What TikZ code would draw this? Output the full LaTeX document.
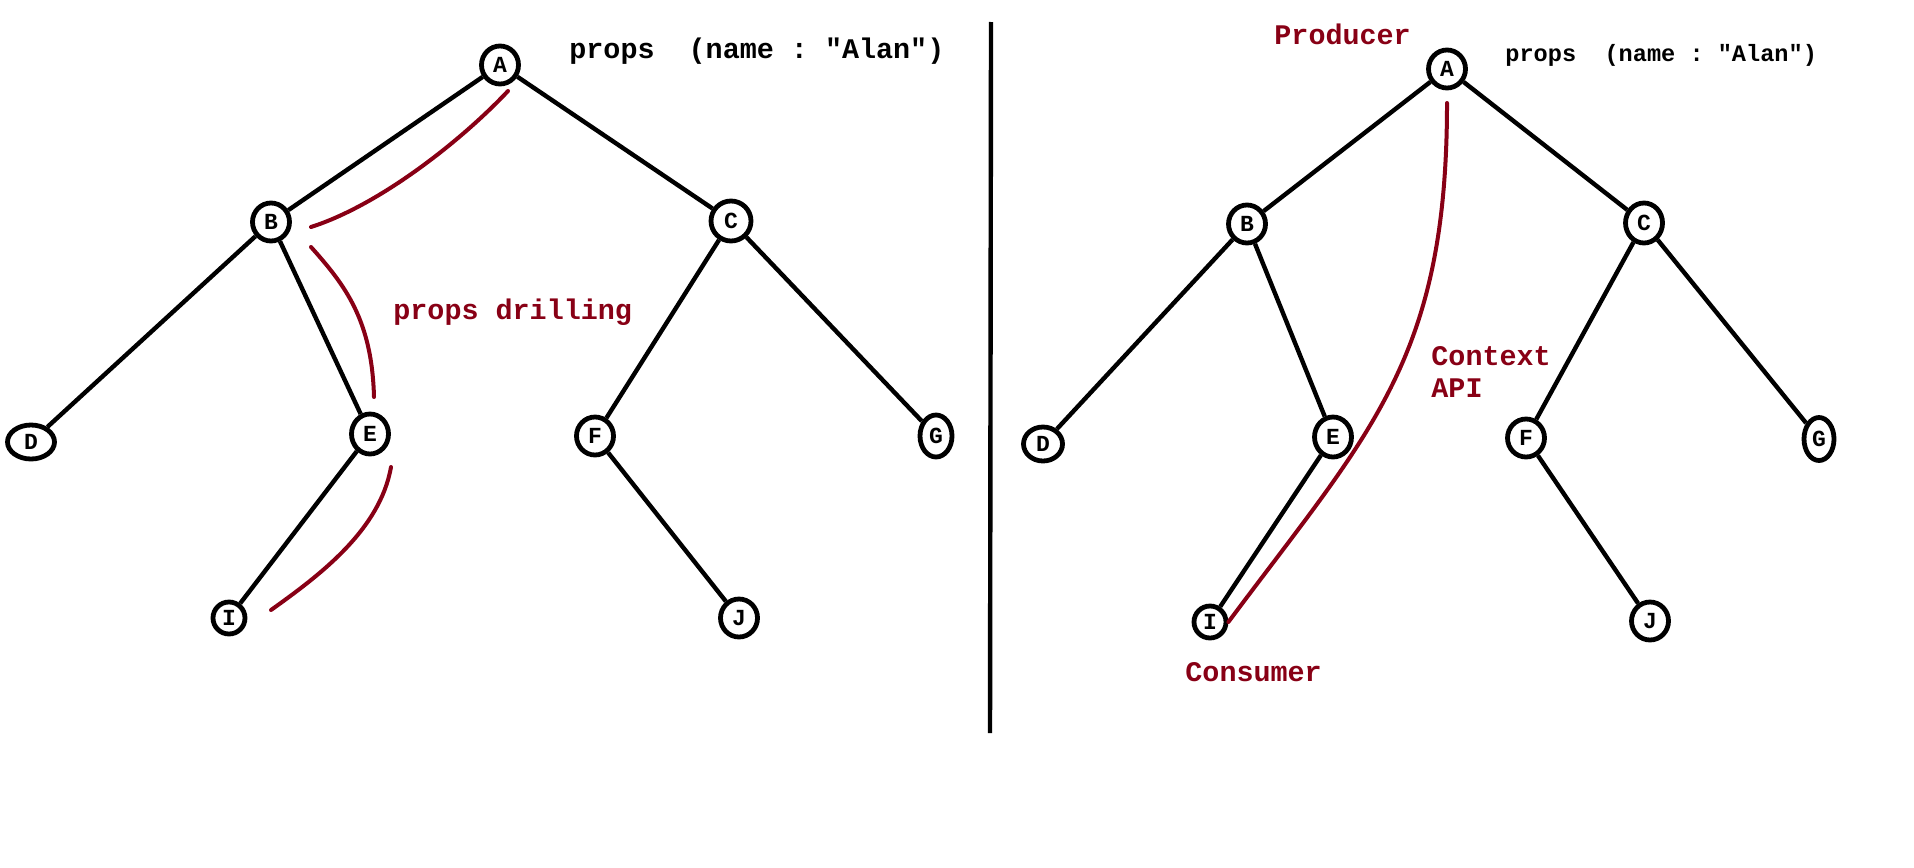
\documentclass[tikz,border=0pt]{standalone}
\usepackage{fontspec}
\setmonofont{Liberation Mono}
\usepackage{tikz}
\usetikzlibrary{shapes.geometric}
\definecolor{paintred}{RGB}{136,0,21}

\begin{document}
\begin{tikzpicture}[x=0.5pt, y=-0.5pt,
	vtx/.style={ellipse, draw, line width=2.4pt, minimum width=18.5pt, minimum height=19pt, inner sep=0pt, font=\fontsize{11.5}{13}\ttfamily\bfseries},
	edge/.style={line width=2.2pt},
	drill/.style={paintred, line width=2pt, line cap=round},
	note/.style={anchor=base west, inner sep=0pt, font=\fontsize{14.2}{16}\ttfamily\bfseries}]
	\useasboundingbox (0,0) rectangle (1914,867);

	\node[vtx] (A) at (500,65) {A}; \node[vtx] (B) at (271,222) {B}; \node[vtx, minimum width=20pt, minimum height=20pt] (C) at (731,221) {C};
	\node[vtx, minimum width=23.5pt, minimum height=17pt] (D) at (31,442) {D};
	\node[vtx, minimum height=20pt] (E) at (370,434) {E}; \node[vtx] (F) at (595,436) {F};
	\node[vtx, minimum width=16pt, minimum height=21pt] (G) at (936,436) {G};
	\node[vtx, minimum width=16pt, minimum height=16pt] (I) at (229,618) {I}; \node[vtx] (J) at (739,618) {J};
	\draw[edge] (A) -- (B) (A) -- (C) (B) -- (D) (B) -- (E) (C) -- (F) (C) -- (G) (E) -- (I) (F) -- (J);

	\node[note] (propsL) at (569,58) {props\ \ (name : "Alan")};
	\node[note, paintred] (drilling) at (393,319) {props drilling};

	\coordinate (d1) at (508,91); \coordinate (d2) at (311,227);
	\coordinate (d3) at (311,247); \coordinate (d4) at (374,397);
	\coordinate (d5) at (391,467); \coordinate (d6) at (271,610);
	\draw[drill] (d1) .. controls (462,140) and (380,205) .. (d2);
	\draw[drill] (d3) .. controls (345,285) and (372,320) .. (d4);
	\draw[drill] (d5) .. controls (380,530) and (320,575) .. (d6);

	\coordinate (top) at (991,22); \coordinate (bot) at (990,733);
	\draw[line width=2.2pt] (top) -- (bot);

	\node[vtx] (A') at (1447,69) {A}; \node[vtx] (B') at (1247,224) {B}; \node[vtx, minimum height=20pt] (C') at (1644,223) {C};
	\node[vtx, minimum width=19.5pt, minimum height=17pt] (D') at (1043,444) {D};
	\node[vtx, minimum height=20pt] (E') at (1333,437) {E}; \node[vtx] (F') at (1526,438) {F};
	\node[vtx, minimum width=15pt, minimum height=21.5pt] (G') at (1819,439) {G};
	\node[vtx, minimum width=16pt, minimum height=16pt] (I') at (1210,622) {I}; \node[vtx] (J') at (1650,621) {J};
	\draw[edge] (A') -- (B') (A') -- (C') (B') -- (D') (B') -- (E') (C') -- (F') (C') -- (G') (E') -- (I') (F') -- (J');

	\node[note, font=\fontsize{11.8}{14}\ttfamily\bfseries] (propsR) at (1505,61) {props\ \ (name : "Alan")};
	\node[note, paintred] (producer) at (1274,44) {Producer};
	\node[note, paintred] (context) at (1431,365) {Context};
	\node[note, paintred] (api) at (1431,397) {API};
	\node[note, paintred] (consumer) at (1185,681) {Consumer};

	\coordinate (c1) at (1447,103);
	\draw[drill] (c1) .. controls (1447,360) and (1370,432) .. (I'.east);
\end{tikzpicture}
\end{document}
